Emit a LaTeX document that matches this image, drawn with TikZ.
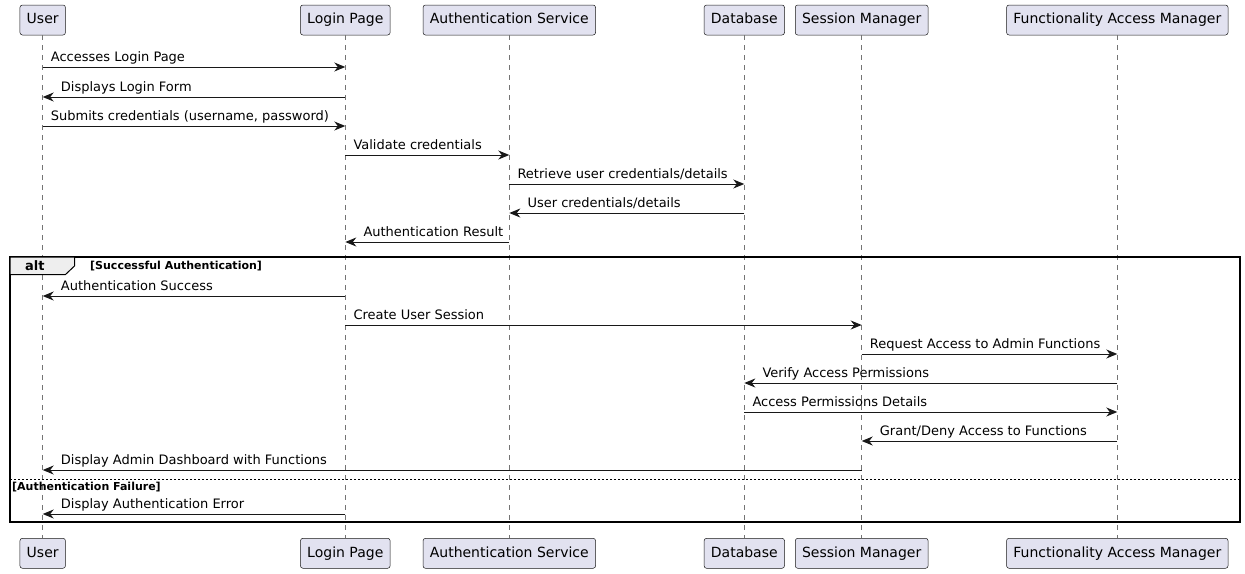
\documentclass[tikz,border=0pt]{standalone}
\usepackage{fontspec}
\setmainfont{DejaVu Sans}
\usetikzlibrary{arrows.meta,calc}

\definecolor{partfill}{HTML}{E2E2F0}
\definecolor{umlline}{HTML}{181818}
\definecolor{tabfill}{HTML}{EEEEEE}

\tikzset{
  part/.style={draw=umlline, line width=0.5pt, fill=partfill, rounded corners=2.5pt,
    minimum height=30pt, inner xsep=6.8pt, inner ysep=0pt, text height=10.5pt, text depth=3pt,
    font=\fontsize{14}{16}\selectfont},
  life/.style={draw=umlline!60, line width=0.6pt, dash pattern=on 5pt off 5pt},
  msg/.style={draw=umlline, line width=1pt, -{Stealth[length=11pt,width=9pt,inset=3.5pt]}},
  lbl/.style={anchor=base west, inner sep=0pt, font=\fontsize{13}{15}\selectfont},
  guard/.style={anchor=base west, inner sep=0pt, font=\fontsize{11}{13}\selectfont\bfseries}
}

\begin{document}
\begin{tikzpicture}[x=1pt,y=-1pt]
\useasboundingbox (0,0) rectangle (1245,573);
% participants, top row
\node[part] (userT) at (42.7,20) {User};
\node[part] (loginT) at (345.3,20) {Login Page};
\node[part] (authT) at (509.3,20) {Authentication Service};
\node[part] (dbT) at (744.3,20) {Database};
\node[part] (sessT) at (861.7,20) {Session Manager};
\node[part] (famT) at (1117.3,20) {Functionality Access Manager};
% participants, bottom row
\node[part] (userB) at (42.7,553.3) {User};
\node[part] (loginB) at (345.3,553.3) {Login Page};
\node[part] (authB) at (509.3,553.3) {Authentication Service};
\node[part] (dbB) at (744.3,553.3) {Database};
\node[part] (sessB) at (861.7,553.3) {Session Manager};
\node[part] (famB) at (1117.3,553.3) {Functionality Access Manager};
% lifelines
\draw[life] (userT) -- (userB);
\draw[life] (loginT) -- (loginB);
\draw[life] (authT) -- (authB);
\draw[life] (dbT) -- (dbB);
\draw[life] (sessT) -- (sessB);
\draw[life] (famT) -- (famB);

% login sequence
\draw[msg] (userT |- 0,67) -- (loginT |- 0,67);
\node[lbl] at ($(userT |- 0,67)+(8,-6)$) {Accesses Login Page};
\draw[msg] (loginT |- 0,97) -- (userT |- 0,97);
\node[lbl] at ($(userT |- 0,97)+(18,-6)$) {Displays Login Form};
\draw[msg] (userT |- 0,126) -- (loginT |- 0,126);
\node[lbl] at ($(userT |- 0,126)+(8,-6)$) {Submits credentials (username, password)};
\draw[msg] (loginT |- 0,155) -- (authT |- 0,155);
\node[lbl] at ($(loginT |- 0,155)+(8,-6)$) {Validate credentials};
\draw[msg] (authT |- 0,184) -- (dbT |- 0,184);
\node[lbl] at ($(authT |- 0,184)+(8,-6)$) {Retrieve user credentials/details};
\draw[msg] (dbT |- 0,213) -- (authT |- 0,213);
\node[lbl] at ($(authT |- 0,213)+(18,-6)$) {User credentials/details};
\draw[msg] (authT |- 0,242) -- (loginT |- 0,242);
\node[lbl] at ($(loginT |- 0,242)+(18,-6)$) {Authentication Result};

% alt frame
\draw[line width=1.5pt] (10,257) rectangle (1240,522);
\draw[line width=1pt, fill=tabfill] (10,257) -- (74.5,257) -- (74.5,266) -- (65.5,274.5) -- (10,274.5) -- cycle;
\node[anchor=base west, inner sep=0pt, font=\fontsize{13}{15}\selectfont\bfseries] (altlbl) at (25,270.5) {alt};
\node[guard] (okguard) at (90,269) {[Successful Authentication]};
\draw[line width=1pt, dash pattern=on 2pt off 2pt] (10,479.5) -- (1240,479.5);
\node[guard] (failguard) at (12,490) {[Authentication Failure]};

% success branch
\draw[msg] (loginT |- 0,296) -- (userT |- 0,296);
\node[lbl] at ($(userT |- 0,296)+(18,-6)$) {Authentication Success};
\draw[msg] (loginT |- 0,325) -- (sessT |- 0,325);
\node[lbl] at ($(loginT |- 0,325)+(8,-6)$) {Create User Session};
\draw[msg] (sessT |- 0,354) -- (famT |- 0,354);
\node[lbl] at ($(sessT |- 0,354)+(8,-6)$) {Request Access to Admin Functions};
\draw[msg] (famT |- 0,383) -- (dbT |- 0,383);
\node[lbl] at ($(dbT |- 0,383)+(18,-6)$) {Verify Access Permissions};
\draw[msg] (dbT |- 0,412) -- (famT |- 0,412);
\node[lbl] at ($(dbT |- 0,412)+(8,-6)$) {Access Permissions Details};
\draw[msg] (famT |- 0,441) -- (sessT |- 0,441);
\node[lbl] at ($(sessT |- 0,441)+(18,-6)$) {Grant/Deny Access to Functions};
\draw[msg] (sessT |- 0,470) -- (userT |- 0,470);
\node[lbl] at ($(userT |- 0,470)+(18,-6)$) {Display Admin Dashboard with Functions};

% failure branch
\draw[msg] (loginT |- 0,514) -- (userT |- 0,514);
\node[lbl] at ($(userT |- 0,514)+(18,-6)$) {Display Authentication Error};
\end{tikzpicture}
\end{document}
